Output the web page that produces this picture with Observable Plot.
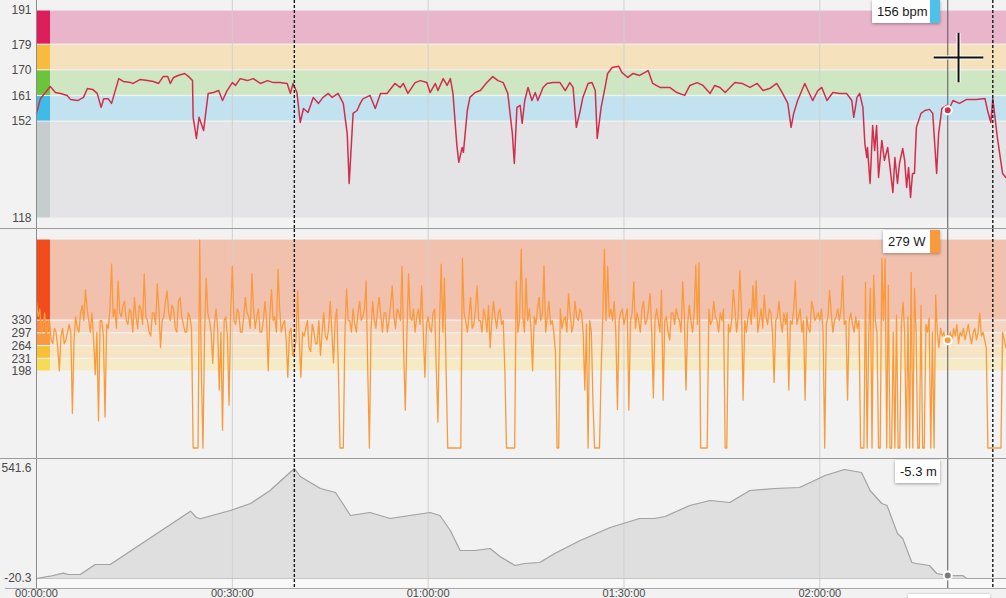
<!DOCTYPE html>
<html><head><meta charset="utf-8">
<script src="https://cdn.jsdelivr.net/npm/d3@7"></script>
<script src="https://cdn.jsdelivr.net/npm/@observablehq/plot@0.6"></script>
<style>
html,body{margin:0;padding:0;background:#f2f2f2;overflow:hidden}
#chart{position:relative;width:1006px;height:598px;overflow:hidden;font-family:"Liberation Sans",Arial,Helvetica,sans-serif}
#chart svg{display:block}
.sep{border-bottom:1px solid #9c9c9c}
.tip{position:absolute;background:#fff;box-shadow:0 1px 3px rgba(0,0,0,.35);font-size:13px;color:#1a1a1a;height:23px;line-height:24px;box-sizing:border-box;padding-left:5px;white-space:nowrap}
.tip .sw{position:absolute;right:0;top:0;width:10px;height:23px}
.ttime{position:absolute;background:#fff;box-shadow:0 0 2px rgba(0,0,0,.3)}
</style></head><body><div id="chart"></div>
<script>
// ---------- data ----------
const timeTicks = [0, 30, 60, 90, 120];          // minutes
const markerTimes = [39.5, 146.5];               // dashed lap markers (minutes)
const cursorTime = 139.6;
const cursorHr = 156, cursorPower = 279, cursorElev = -5.3;
const pointer = {t: 141.25, v: 174.5};

const hrTicks = [118, 152, 161, 170, 179, 191];
const hrZoneLo = [118, 152, 161, 170, 179];
const hrZoneHi = [152, 161, 170, 179, 191];

const powerTicks = [198, 231, 264, 297, 330];
const powerZoneLo = [198, 231, 264, 297, 330];
const powerZoneHi = [231, 264, 297, 330, 540];

const elevTicks = [-20.3, 541.6];

const hrTime = [0,0.6,2.1,2.9,3.7,4.7,5.2,6.3,7.2,7.8,8.6,9.3,9.9,10.3,11.0,11.5,12.6,13.3,14.4,14.8,15.9,17.0,17.9,18.7,19.4,20.1,20.5,21.0,21.7,22.7,23.3,23.9,24.0,24.5,24.9,25.6,26.3,27.1,27.9,28.5,29.2,30.0,30.5,31.2,32.3,33.2,34.3,35.4,36.3,37.3,38.4,38.9,39.3,39.9,40.4,40.9,41.6,42.4,43.2,43.9,44.7,45.3,46.2,47.0,47.6,47.9,48.5,49.1,49.6,
50.0,51.1,51.9,52.7,53.7,54.9,55.7,56.2,56.9,58.0,58.8,59.8,60.3,61.1,61.5,62.3,62.9,63.4,63.8,64.4,64.7,65.2,65.4,66.0,66.4,67.2,68.0,69.0,69.9,70.7,71.5,72.2,72.9,73.2,73.6,74.1,74.4,74.8,75.3,75.9,76.4,76.8,77.6,78.2,79.1,80.2,81.0,81.7,82.2,82.7,83.3,83.7,84.5,85.1,85.6,85.9,86.5,87.1,87.5,88.2,89.2,89.7,90.6,91.4,92.4,93.7,94.4,95.5,
97.0,98.1,99.3,100.1,101.2,102.1,103.2,103.9,104.7,105.5,107.0,108.1,109.3,110.4,111.3,112.3,113.4,114.3,115.1,115.6,116.0,116.6,117.7,118.9,119.7,120.3,121.1,122.0,123.1,124.1,124.9,125.2,125.7,126.1,126.6,126.9,127.2,127.3,127.7,128.1,128.4,128.7,129.0,129.5,129.9,130.4,131.2,131.5,131.9,132.2,132.7,133.0,133.3,133.6,133.9,134.2,134.5,134.8,135.5,136.1,136.8,137.3,137.9,138.2,138.7,139.4,139.7,140.4,141.4,142.5,144.0,145.3,145.7,146.2,146.5,147.2,148.0,148.5];
const hrBpm = [155,160,164.3,162.2,161.9,161.2,159.8,159.4,160.5,163.6,163.3,161.9,157,160,160,158.4,167.1,166.1,165.7,165.4,166.8,166.4,166.1,165.4,167.8,167.8,165.4,167.5,168.2,168.9,167.8,166.4,153.5,146.1,153.5,148.9,161.9,162.2,162.9,159.4,162.9,165.7,164.7,167.1,166.4,167.1,165.4,166.4,165.7,165.7,165.4,161.9,165.4,162.2,151.7,156.6,155.2,160.5,158.4,160.5,161.9,160.5,161.9,158.4,147.8,130.3,154.9,155.9,158.4,
160,161.2,156.6,161.9,161.9,165.4,164,165.4,161.9,165.7,166.4,165.7,162.2,165.4,162.9,167.1,164.7,167.1,161.9,143.6,137.7,142.9,141.2,155.9,160.5,162.2,162.9,165.7,167.8,166.4,165.7,161.9,147.8,137.3,157,157.7,151.4,159.4,164,159.4,162.2,159.4,164,165.4,165.7,165.7,162.9,165.7,164,150,155.9,160.5,165.4,165.7,162.9,146.1,157,164,168.9,171,171.4,169.2,167.5,168.9,168.2,169.9,165.4,164,
164,162.2,161.2,164.7,165.7,164.7,161.9,164.7,164,162.2,165.7,165.4,164,165.4,162.9,163.6,165.4,161.9,158.4,150,154.9,159.4,165.4,159.4,162.9,164,159.4,162.2,161.9,161.9,159.4,153.5,160.5,161.9,157,144.3,139.4,142.9,130.3,150.6,141.9,150.6,132.4,145.4,138.4,142.9,127.1,139.4,130.3,137.3,142.6,138.4,128.9,135.9,125.4,133.8,133.8,150,154.9,155.9,156.3,154.9,133.8,147.8,156.6,157.7,155.9,159.4,158.4,159.8,159.8,160.1,155.9,151.7,160.1,146.4,133.8,132.4];

const powerSampleMin = 0.25; // one sample every 15 s
const powerW = [
380,340,360,300,310,350,290,320,330,280,270,310,300,260,200,290,310,270,280,300,
320,300,90,280,340,310,300,350,370,330,410,360,330,300,350,280,190,300,70,330,
330,290,80,320,310,360,476,340,360,310,433,350,340,370,380,330,320,360,350,300,
390,340,310,370,360,320,451,340,330,300,290,350,350,320,425,360,260,330,340,380,
407,350,330,370,360,310,300,380,390,340,320,300,300,350,340,310,0,0,0,0,
538,200,0,300,440,350,330,300,219,320,360,310,150,300,46,330,340,290,111,350,
471,330,320,360,350,300,300,340,390,350,340,310,451,360,310,340,360,300,300,330,
380,330,200,350,410,330,340,300,463,360,300,320,330,280,183,300,310,240,250,280,
407,280,183,300,290,310,330,260,250,320,300,270,270,330,240,300,350,290,280,310,
380,300,220,330,360,200,0,0,0,300,412,330,330,300,360,320,300,350,380,330,
340,360,433,200,0,310,380,330,310,360,390,340,300,350,350,300,330,370,420,340,
310,360,350,330,471,250,98,300,451,340,330,360,300,340,360,320,420,300,183,320,
340,310,300,350,360,200,67,330,476,300,440,200,0,0,0,0,0,0,0,0,
0,492,350,330,300,340,390,310,320,360,420,330,330,300,360,340,300,370,260,330,
380,340,310,350,360,320,330,200,0,0,0,0,0,0,433,300,330,515,340,300,
440,330,360,310,200,340,320,360,390,330,350,471,300,340,380,320,330,300,250,0,
0,360,310,330,340,300,400,350,300,320,380,340,330,360,350,300,150,320,0,330,
300,120,0,0,0,0,200,340,515,330,470,340,360,330,380,300,100,330,350,360,
320,340,360,98,330,350,430,310,350,330,300,360,380,320,330,360,400,300,130,330,
360,330,300,408,124,330,340,300,280,350,350,320,360,340,330,300,430,340,150,320,
370,330,300,350,474,320,480,0,0,0,0,0,360,320,330,380,340,330,300,350,
330,360,0,0,320,300,330,410,360,300,340,459,360,124,330,300,340,360,320,420,
340,433,300,330,360,310,396,340,320,360,350,300,170,330,340,380,330,300,350,320,
350,150,330,320,360,433,320,340,360,300,330,124,340,310,300,380,360,330,340,350,
330,360,300,0,320,340,408,350,300,330,340,360,330,360,446,320,330,124,330,350,
320,300,340,310,330,0,0,0,429,0,300,414,0,447,330,300,0,0,492,330,
492,0,422,0,0,300,0,344,0,0,320,378,300,0,340,0,455,0,414,300,
0,0,370,0,0,320,300,337,0,300,0,396,300,260,310,290,300,270,279,279,
300,280,310,290,320,270,300,290,310,280,300,320,290,270,300,310,280,300,349,290,
300,280,260,0,0,0,0,0,0,0,0,0,300,280,260];

const elevTime = [0,2.1,4.1,4.9,6.7,9.0,11.3,23.6,24.5,25.1,29.7,32.8,35.8,39.5,40.4,43.5,45.8,48.1,51.1,54.2,57.2,60.3,61.8,63.4,64.9,67.2,69.5,71.0,73.3,74.8,77.1,79.4,83.3,87.9,92.4,94.7,96.3,100.1,103.2,106.2,109.3,113.1,116.9,119.2,120.8,123.8,124.6,126.4,127.7,129.5,130.3,131.9,132.7,134.1,134.8,136.8,137.9,139.6,141.9,142.5,148.6];
const elevM = [-20.3,-8.6,6.8,0.1,0.1,51.2,51.2,323.5,291.3,284.7,327,362.8,429.2,541.6,500.7,439.4,419,301.5,316.8,286.2,301.5,316.8,301.5,224.9,122.7,122.7,132.9,92.1,46.1,56.3,61.4,107.4,173.8,240.2,286.2,286.2,296.4,352.6,378.1,367.9,429.2,439.4,444.5,480.3,505.8,536.5,531.4,521.2,429.2,362.8,352.6,209.6,184,61.4,56.3,46.1,5.2,-5.3,-5,-20.3,-20.3];

// ---------- styles ----------
const hrZoneFill  = ["#e4e4e6","#c2e2f0","#cee6c2","#f5e1bc","#e9b5ca"];
const hrZoneStrip = ["#c6cdcd","#3fbbe8","#6cc43c","#f8bb3e","#dc1f5c"];
const pwZoneFill  = ["#f5ebc6","#f5e5c5","#f5dfc8","#f4d5c3","#f2c1ad"];
const pwZoneStrip = ["#f6dc55","#f7c036","#fa9a3e","#f98a42","#f24b1c"];

const W = 1006, ML = 36;
const xDomain = [0, 148.6];
const font = '"Liberation Sans", Arial, Helvetica, sans-serif';
const fmtTime = t => { const s = Math.round(t * 60); return [Math.floor(s / 3600), Math.floor(s / 60) % 60, s % 60].map(v => String(v).padStart(2, "0")).join(":"); };

const hr = hrTime.map((t, i) => ({t, v: hrBpm[i]}));
const power = powerW.map((v, i) => ({t: i * powerSampleMin, v}));
const elev = elevTime.map((t, i) => ({t, v: elevM[i]}));

function zoneMarks(lo, hi, fills, strips) {
  const m = [];
  lo.forEach((l, i) => m.push(Plot.rect([{l, h: hi[i]}], {y1: "l", y2: "h", fill: fills[i], insetTop: 0.6, insetBottom: 0.6})));
  lo.forEach((l, i) => m.push(Plot.rect([{l, h: hi[i]}], {y1: "l", y2: "h", fill: strips[i], insetTop: 0.6, insetBottom: 0.6, insetRight: (W - ML) - 14})));
  return m;
}
function gridMarks() {
  return [Plot.ruleX(timeTicks.slice(1), {stroke: "#d0d0d0", strokeWidth: 1})];
}
function overlayMarks() {
  return [
    Plot.ruleX(markerTimes, {stroke: "#1a1a1a", strokeWidth: 1.4, strokeDasharray: "3,2"}),
    Plot.ruleX([cursorTime], {stroke: "#5a5a5a", strokeWidth: 1}),
    Plot.ruleX([xDomain[0]], {stroke: "#8c8c8c", strokeWidth: 1})
  ];
}
const baseStyle = {background: "transparent", fontFamily: font, fontSize: "12px", color: "#4a4a4a", overflow: "visible"};

const p1 = Plot.plot({
  width: W, height: 228, marginLeft: ML, marginRight: 0, marginTop: 0, marginBottom: 0,
  style: baseStyle,
  x: {domain: xDomain, axis: null},
  y: {domain: [118, 191], range: [218, 10], axis: null},
  marks: [
    ...zoneMarks(hrZoneLo, hrZoneHi, hrZoneFill, hrZoneStrip),
    ...gridMarks(),
    Plot.lineY(hr, {x: "t", y: "v", stroke: "#d22e4b", strokeWidth: 1.5}),
    Plot.axisY({ticks: hrTicks, tickSize: 0, tickPadding: 5, label: null, tickFormat: d => String(d)}),
    ...overlayMarks(),
    Plot.dot([{t: cursorTime, v: cursorHr}], {x: "t", y: "v", r: 4, fill: "#d22e4b", stroke: "#fff", strokeWidth: 2}),
    Plot.dot([pointer], {x: "t", y: "v", symbol: "plus", r: 16, stroke: "#fff", strokeWidth: 4}),
    Plot.dot([pointer], {x: "t", y: "v", symbol: "plus", r: 16, stroke: "#111", strokeWidth: 2})
  ]
});

const p2 = Plot.plot({
  width: W, height: 229, marginLeft: ML, marginRight: 0, marginTop: 0, marginBottom: 0,
  style: baseStyle,
  x: {domain: xDomain, axis: null},
  y: {domain: [0, 540], range: [218.5, 10], axis: null},
  marks: [
    ...zoneMarks(powerZoneLo, powerZoneHi, pwZoneFill, pwZoneStrip),
    ...gridMarks(),
    Plot.lineY(power, {x: "t", y: "v", stroke: "#f99a3c", strokeWidth: 1.3}),
    Plot.axisY({ticks: powerTicks, tickSize: 0, tickPadding: 5, label: null, tickFormat: d => String(d)}),
    ...overlayMarks(),
    Plot.dot([{t: cursorTime, v: cursorPower}], {x: "t", y: "v", r: 4, fill: "#f99a3c", stroke: "#fff", strokeWidth: 2})
  ]
});

const p3 = Plot.plot({
  width: W, height: 160, marginLeft: ML, marginRight: 0, marginTop: 0, marginBottom: 31,
  style: baseStyle,
  x: {domain: xDomain},
  y: {domain: [elevTicks[0], elevTicks[1]], range: [119, 9], axis: null},
  marks: [
    Plot.ruleY([elevTicks[0]], {stroke: "#f8f8f8", strokeWidth: 9, dy: 5}),
    Plot.areaY(elev, {x: "t", y1: elevTicks[0], y2: "v", fill: "#dfdfdf"}),
    ...gridMarks(),
    Plot.ruleY([elevTicks[0]], {stroke: "#c4c4c4"}),
    Plot.lineY(elev, {x: "t", y: "v", stroke: "#a3a3a3", strokeWidth: 1.2}),
    Plot.ruleY([elevTicks[0]], {stroke: "#a8a8a8", dy: 10, insetLeft: -31}),
    Plot.axisY({ticks: elevTicks, tickSize: 0, tickPadding: 5, label: null, tickFormat: d => String(d)}),
    Plot.axisX({ticks: timeTicks, tickSize: 0, tickPadding: 1, label: null, tickFormat: fmtTime, fontSize: 11}),
    ...overlayMarks(),
    Plot.dot([{t: cursorTime, v: cursorElev}], {x: "t", y: "v", r: 4, fill: "#7a7a7a", stroke: "#fff", strokeWidth: 2})
  ]
});

const chart = document.getElementById("chart");
p1.classList.add("sep"); p2.classList.add("sep");
chart.append(p1, p2, p3);

function tip(left, top, width, text, swatch) {
  const d = document.createElement("div");
  d.className = "tip";
  d.style.left = left + "px"; d.style.top = top + "px"; d.style.width = width + "px";
  d.textContent = text;
  if (swatch) { const s = document.createElement("span"); s.className = "sw"; s.style.background = swatch; d.appendChild(s); }
  chart.appendChild(d);
}
tip(872, 0, 68, cursorHr + " bpm", "#4ec0ea");
tip(883, 230, 57, cursorPower + " W", "#f99a3c");
tip(895, 460, 45, cursorElev + " m", null);
const tt = document.createElement("div");
tt.className = "ttime";
Object.assign(tt.style, {left: "908px", top: "594px", width: "82px", height: "20px"});
chart.appendChild(tt);
</script></body></html>
